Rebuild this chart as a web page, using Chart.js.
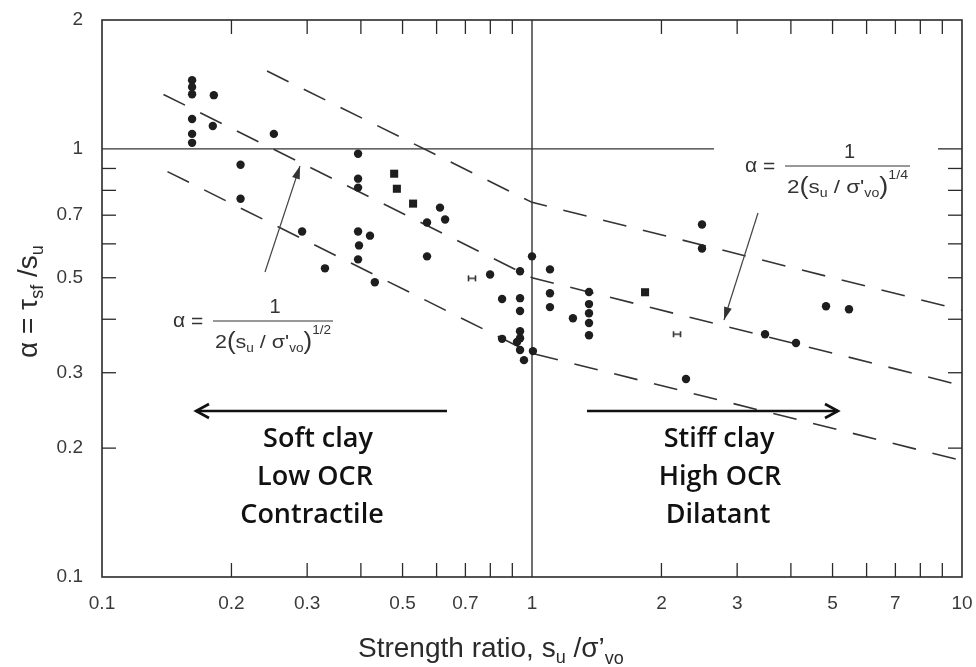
<!DOCTYPE html>
<html>
<head>
<meta charset="utf-8">
<script src="https://cdn.jsdelivr.net/npm/chart.js@4.4.0/dist/chart.umd.min.js"></script>
<style>
  html, body { margin: 0; padding: 0; background: #fff; }
  #wrap { width: 976px; height: 667px; }
</style>
</head>
<body>
<div id="wrap"><canvas id="grafico"></canvas></div>
<script>
// etiquetas de los ejes logaritmicos
const xTicks = [0.1, 0.2, 0.3, 0.5, 0.7, 1, 2, 3, 5, 7, 10];
const yTicks = [0.1, 0.2, 0.3, 0.5, 0.7, 1, 2];
const xMinor = [0.2, 0.3, 0.4, 0.5, 0.6, 0.7, 0.8, 0.9, 2, 3, 4, 5, 6, 7, 8, 9];
const yMinor = [0.2, 0.3, 0.4, 0.5, 0.6, 0.7, 0.8, 0.9];

// puntos medidos (circulos)
const circleX = [0.162, 0.162, 0.162, 0.162, 0.162, 0.162, 0.182, 0.181, 0.251, 0.21, 0.21,
  0.394, 0.394, 0.394, 0.611, 0.628, 0.57, 0.292, 0.394, 0.42, 0.396, 0.394, 0.57, 0.33, 0.431,
  1.0, 1.101, 0.799, 0.938, 1.101, 0.852, 0.938, 1.101, 0.938, 1.357, 1.357, 1.357, 1.245, 1.357, 1.357,
  0.852, 0.938, 0.938, 0.923, 0.938, 0.958, 1.005, 2.485, 2.485, 4.828, 5.46, 3.483, 4.111, 2.281];
const circleY = [1.447, 1.394, 1.342, 1.174, 1.084, 1.033, 1.335, 1.131, 1.084, 0.918, 0.765,
  0.974, 0.852, 0.812, 0.729, 0.684, 0.673, 0.641, 0.641, 0.627, 0.595, 0.552, 0.561, 0.526, 0.488,
  0.561, 0.523, 0.509, 0.518, 0.46, 0.446, 0.448, 0.427, 0.418, 0.463, 0.434, 0.413, 0.402, 0.392, 0.367,
  0.36, 0.375, 0.361, 0.354, 0.339, 0.321, 0.337, 0.666, 0.585, 0.429, 0.422, 0.369, 0.352, 0.29];

// puntos cuadrados
const squareX = [0.478, 0.485, 0.529, 1.832];
const squareY = [0.875, 0.807, 0.745, 0.4625];

// marcas tipo "H"
const markX = [0.725, 2.174];
const markY = [0.4985, 0.369];

// lineas de tendencia (discontinuas)
const upperX = [0.242, 1, 10];
const upperY = [1.52, 0.75, 0.42];
const middleX = [0.139, 1, 10];
const middleY = [1.34, 0.5, 0.28];
const lowerX = [0.142, 1, 10];
const lowerY = [0.885, 0.333, 0.187];

// lineas de referencia
const hLineX = [0.1, 2.65];
const hLineY = [1, 1];
const vLineX = [1, 1];
const vLineY = [0.1, 2];

const pares = (xs, ys) => xs.map((x, i) => ({ x: x, y: ys[i] }));

// simbolo H pequeño
const hMark = document.createElement('canvas');
hMark.width = 10; hMark.height = 8;
(function() {
  const g = hMark.getContext('2d');
  g.strokeStyle = '#333';
  g.lineWidth = 1.6;
  g.beginPath();
  g.moveTo(1.5, 1); g.lineTo(1.5, 7);
  g.moveTo(8.5, 1); g.lineTo(8.5, 7);
  g.moveTo(1.5, 4); g.lineTo(8.5, 4);
  g.stroke();
})();

const FUENTE = '"Liberation Sans", Arial, sans-serif';

function trazos(ctx, x, y, partes) {
  let cx = x;
  partes.forEach(p => {
    ctx.font = p[1] + 'px ' + FUENTE;
    ctx.fillText(p[0], cx, y + (p[2] || 0));
    cx += ctx.measureText(p[0]).width;
  });
  return cx;
}
function anchoTrazos(ctx, partes) {
  let w = 0;
  partes.forEach(p => { ctx.font = p[1] + 'px ' + FUENTE; w += ctx.measureText(p[0]).width; });
  return w;
}

function linea(ctx, x1, y1, x2, y2) {
  ctx.beginPath(); ctx.moveTo(x1, y1); ctx.lineTo(x2, y2); ctx.stroke();
}

function flecha(ctx, x1, y1, x2, y2) {
  linea(ctx, x1, y1, x2, y2);
  const a = Math.atan2(y2 - y1, x2 - x1);
  const l = 13, w = 4;
  ctx.beginPath();
  ctx.moveTo(x2, y2);
  ctx.lineTo(x2 - l * Math.cos(a) + w * Math.sin(a), y2 - l * Math.sin(a) - w * Math.cos(a));
  ctx.lineTo(x2 - l * Math.cos(a) - w * Math.sin(a), y2 - l * Math.sin(a) + w * Math.cos(a));
  ctx.closePath();
  ctx.fill();
}

function flechaAbierta(ctx, x1, y, x2) {
  linea(ctx, x1, y, x2, y);
  const d = x2 > x1 ? -1 : 1;
  ctx.beginPath();
  ctx.moveTo(x2 + d * 13, y - 7); ctx.lineTo(x2, y); ctx.lineTo(x2 + d * 13, y + 7);
  ctx.stroke();
}

function formula(ctx, ax, barY, x1, x2, pot) {
  ctx.fillStyle = '#333';
  ctx.strokeStyle = '#333';
  ctx.textAlign = 'left';
  ctx.font = '21px ' + FUENTE;
  ctx.fillText('α', ax, barY + 6);
  ctx.fillText('=', ax + 18, barY + 7);
  ctx.lineWidth = 1;
  linea(ctx, x1, barY, x2, barY);
  ctx.textAlign = 'center';
  ctx.font = '20px ' + FUENTE;
  ctx.fillText('1', (x1 + x2) / 2 + 2, barY - 8);
  ctx.textAlign = 'left';
  const partes = [['2', 19], ['(', 23, 1], ['s', 19], ['u', 12, 4], [' / σ\'', 19], ['vo', 12, 4], [')', 23, 1], [pot, 12, -14]];
  const w = anchoTrazos(ctx, partes);
  ctx.save();
  ctx.translate(x1 + 2, barY + 27);
  ctx.scale((x2 - x1 - 4) / w, 1);
  trazos(ctx, 0, 0, partes);
  ctx.restore();
}

const decoracion = {
  id: 'decoracion',
  afterDraw(chart) {
    const ctx = chart.ctx;
    const { left, right, top, bottom } = chart.chartArea;
    const xs = chart.scales.x, ys = chart.scales.y;
    ctx.save();

    // marco y marcas interiores
    ctx.strokeStyle = '#2a2a2a';
    ctx.lineWidth = 1.6;
    ctx.strokeRect(left, top, right - left, bottom - top);
    ctx.lineWidth = 1.3;
    xMinor.forEach(v => {
      const px = xs.getPixelForValue(v);
      linea(ctx, px, bottom, px, bottom - 14);
      linea(ctx, px, top, px, top + 14);
    });
    yMinor.forEach(v => {
      const py = ys.getPixelForValue(v);
      linea(ctx, left, py, left + 14, py);
      linea(ctx, right, py, right - 14, py);
    });
    const p1 = ys.getPixelForValue(1);
    linea(ctx, right, p1, right - 24, p1);

    // titulos de los ejes
    ctx.fillStyle = '#2a2a2a';
    ctx.textAlign = 'left';
    ctx.textBaseline = 'alphabetic';
    trazos(ctx, 358, 657, [['Strength ratio, s', 28], ['u', 18, 6], [' /σ’', 28], ['vo', 18, 7]]);
    ctx.save();
    ctx.translate(37, 358);
    ctx.rotate(-Math.PI / 2);
    trazos(ctx, 0, 0, [['α = τ', 28], ['sf', 18, 6], [' /s', 28], ['u', 18, 6]]);
    ctx.restore();

    // formulas
    formula(ctx, 173, 321, 213, 333, '1/2');
    formula(ctx, 745, 166, 785, 910, '1/4');

    // flechas inclinadas
    ctx.strokeStyle = '#444';
    ctx.fillStyle = '#333';
    ctx.lineWidth = 1.2;
    flecha(ctx, 265, 272, 300, 166);
    flecha(ctx, 758, 213, 724, 320);

    // flechas horizontales
    ctx.strokeStyle = '#111';
    ctx.lineWidth = 2.6;
    flechaAbierta(ctx, 447, 411, 196);
    flechaAbierta(ctx, 587, 411, 838);

    // textos
    ctx.fillStyle = '#111';
    ctx.textAlign = 'center';
    ctx.font = '600 27px "Open Sans", sans-serif';
    ctx.fillText('Soft clay', 318, 447);
    ctx.fillText('Low OCR', 315, 485);
    ctx.fillText('Contractile', 312, 523);
    ctx.fillText('Stiff clay', 719, 447);
    ctx.fillText('High OCR', 720, 485);
    ctx.fillText('Dilatant', 718, 523);
    ctx.restore();
  }
};

const lineaDisc = (xs, ys) => ({
  type: 'line',
  data: pares(xs, ys),
  borderColor: '#333',
  borderWidth: 1.6,
  borderDash: [24, 17],
  pointRadius: 0,
  fill: false,
  tension: 0
});
const lineaSolida = (xs, ys) => ({
  type: 'line',
  data: pares(xs, ys),
  borderColor: '#333',
  borderWidth: 1.4,
  pointRadius: 0,
  fill: false,
  tension: 0
});

const ctx = document.getElementById('grafico').getContext('2d');
const chart = new Chart(ctx, {
  type: 'scatter',
  data: {
    datasets: [
      { label: 'circulos', data: pares(circleX, circleY), pointStyle: 'circle', pointRadius: 4.2, backgroundColor: '#1e1e1e', borderWidth: 0 },
      { label: 'cuadrados', data: pares(squareX, squareY), pointStyle: 'rect', pointRadius: 5.7, backgroundColor: '#1e1e1e', borderWidth: 0 },
      { label: 'H', data: pares(markX, markY), pointStyle: hMark },
      lineaDisc(upperX, upperY),
      lineaDisc(middleX, middleY),
      lineaDisc(lowerX, lowerY),
      lineaSolida(hLineX, hLineY),
      lineaSolida(vLineX, vLineY)
    ]
  },
  options: {
    responsive: true,
    maintainAspectRatio: false,
    animation: false,
    layout: { padding: { left: 0, right: 14, top: 20, bottom: 0 } },
    plugins: { legend: { display: false }, tooltip: { enabled: false } },
    scales: {
      x: {
        type: 'logarithmic',
        min: 0.1,
        max: 10,
        afterBuildTicks: s => { s.ticks = xTicks.map(v => ({ value: v })); },
        afterFit: s => { s.height = 90; s.paddingLeft = 0; s.paddingRight = 0; },
        grid: { display: false, drawTicks: false },
        border: { display: false },
        ticks: {
          autoSkip: false,
          maxRotation: 0,
          padding: 15,
          color: '#3a3a3a',
          font: { family: 'Liberation Sans', size: 19 },
          callback: v => String(v)
        }
      },
      y: {
        type: 'logarithmic',
        min: 0.1,
        max: 2,
        afterBuildTicks: s => { s.ticks = yTicks.map(v => ({ value: v })); },
        afterFit: s => { s.width = 102; s.paddingTop = 0; s.paddingBottom = 0; },
        grid: { display: false, drawTicks: false },
        border: { display: false },
        ticks: {
          autoSkip: false,
          padding: 19,
          color: '#3a3a3a',
          font: { family: 'Liberation Sans', size: 19 },
          callback: v => String(v)
        }
      }
    }
  },
  plugins: [decoracion]
});
</script>
</body>
</html>
